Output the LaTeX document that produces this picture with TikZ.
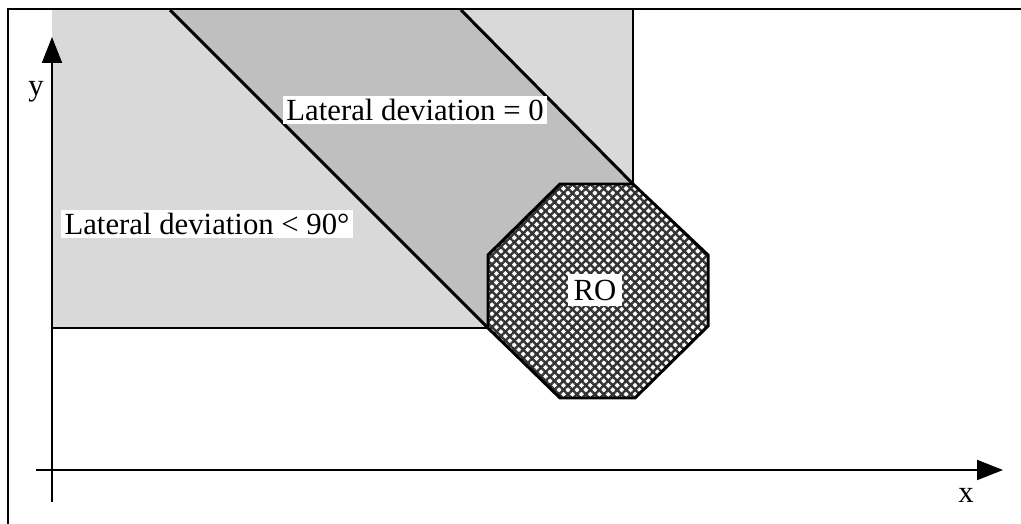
\documentclass[tikz,border=0pt]{standalone}
\usepackage{fontspec}
\setmainfont{Liberation Serif}
\usetikzlibrary{arrows.meta, patterns.meta}

\begin{document}
\begin{tikzpicture}[
    x=0.02cm, y=-0.02cm,
    axis/.style={line width=1.1pt, -{Triangle[length=0.52cm, width=0.4cm]}},
    edge/.style={line width=1.7pt},
    thinedge/.style={line width=1.1pt},
    light/.style={fill=black!15},
    band/.style={fill=black!25},
    mesh/.style={pattern={Lines[angle=45, distance=3.6pt, line width=1.4pt]}, pattern color=black!80},
    mesh2/.style={pattern={Lines[angle=-45, distance=3.6pt, line width=1.4pt]}, pattern color=black!80},
    label/.style={fill=white, inner sep=2pt, font=\fontsize{17.5}{20}\selectfont}
]
\useasboundingbox (0,0) rectangle (1021,524);

% RO corners
\coordinate (o1) at (560,184);
\coordinate (o2) at (633,184);
\coordinate (o3) at (708,255);
\coordinate (o4) at (708,326);
\coordinate (o5) at (635,398);
\coordinate (o6) at (560,398);
\coordinate (o7) at (488,328);
\coordinate (o8) at (488,255);

% Shaded zones
\fill[light] (52,10) rectangle (633,328);
\fill[band] (170,10) -- (461,10) -- (o2) -- (o1) -- (o8) -- (o7) -- cycle;
\draw[thinedge] (52,328) -- (o7);
\draw[thinedge] (633,10) -- (o2);

% Borders of the deviation band
\draw[edge] (170,10) -- (o7);
\draw[edge] (461,10) -- (o2);

% RO
\fill[white] (o1) -- (o2) -- (o3) -- (o4) -- (o5) -- (o6) -- (o7) -- (o8) -- cycle;
\fill[mesh] (o1) -- (o2) -- (o3) -- (o4) -- (o5) -- (o6) -- (o7) -- (o8) -- cycle;
\fill[mesh2] (o1) -- (o2) -- (o3) -- (o4) -- (o5) -- (o6) -- (o7) -- (o8) -- cycle;
\draw[edge] (o1) -- (o2) -- (o3) -- (o4) -- (o5) -- (o6) -- (o7) -- (o8) -- cycle;
\node[label, inner sep=3pt] (ro) at (595,290) {RO};

% Frame
\draw[thinedge] (8,524) -- (8,9) -- (1021,9);

% Axes
\coordinate (origin_y) at (52,502);
\coordinate (top_y) at (52,37);
\coordinate (origin_x) at (36,470);
\coordinate (end_x) at (1003,470);
\draw[axis] (origin_y) -- (top_y);
\draw[axis] (origin_x) -- (end_x);
\node[font=\fontsize{17.5}{20}\selectfont] (ylab) at (36,92) {y};
\node[font=\fontsize{17.5}{20}\selectfont] (xlab) at (966,495) {x};

% Labels
\node[label] (lat_zero) at (415,110) {Lateral deviation = 0};
\node[label] (lat_ninety) at (207,224) {Lateral deviation < 90°};

\end{tikzpicture}
\end{document}
